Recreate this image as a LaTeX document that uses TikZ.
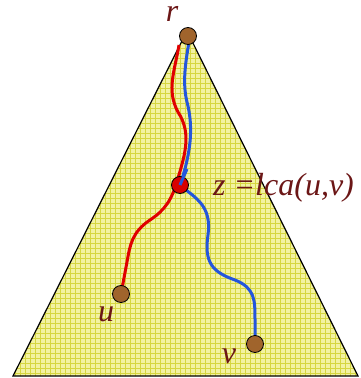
\documentclass[tikz,border=0pt]{standalone}
\usepackage{fontspec}
\setmainfont{Liberation Serif}
\begin{document}
\begin{tikzpicture}[x=1pt,y=-1pt,
  vert/.style={circle,draw=black,line width=0.8pt,fill=nodebrown,minimum size=17pt,inner sep=0pt},
  zdot/.style={circle,draw=black,line width=0.8pt,fill=dotred,minimum size=17pt,inner sep=0pt},
  lab/.style={text=labred,font=\fontsize{32}{34}\selectfont\itshape,inner sep=0pt},
  redpath/.style={draw=pathred,line width=3pt},
  bluepath/.style={draw=pathblue,line width=3pt}]
\definecolor{nodebrown}{HTML}{A0642C}
\definecolor{dotred}{HTML}{D80000}
\definecolor{labred}{HTML}{6B1616}
\definecolor{pathred}{HTML}{E00000}
\definecolor{pathblue}{HTML}{2456DC}
\definecolor{gridbg}{HTML}{F2F2A2}
\definecolor{gridln}{HTML}{D6D640}
\useasboundingbox (0,0) rectangle (360,378);
% triangle with grid
\coordinate (A) at (187,31);
\coordinate (B) at (13,376);
\coordinate (C) at (358,376);
\fill[gridbg] (A) -- (B) -- (C) -- cycle;
\begin{scope}
\clip (A) -- (B) -- (C) -- cycle;
\foreach \i in {0,...,72} {
  \draw[gridln,line width=0.7pt] (10+5*\i,0) -- (10+5*\i,380);
}
\foreach \j in {0,...,70} {
  \draw[gridln,line width=0.7pt] (0,28+5*\j) -- (360,28+5*\j);
}
\end{scope}
\draw[black,line width=1.2pt] (A) -- (B) -- (C) -- cycle;
% nodes positions
\coordinate (rp) at (188,36);
\coordinate (zp) at (180,185);
\coordinate (up) at (121,294);
\coordinate (vp) at (255,344);
% paths
\draw[redpath] (179,45) .. controls (175,70) and (166,90) .. (178,112)
  .. controls (191,132) and (186,152) .. (178,178)
  .. controls (172,200) and (165,210) .. (150,220)
  .. controls (132,232) and (130,245) .. (127,262)
  -- (up);
\draw[bluepath] (189,42) .. controls (186,60) and (182,82) .. (187,102)
  .. controls (193,125) and (192,150) .. (zp);
\draw[bluepath] (zp) .. controls (195,198) and (212,205) .. (208,235)
  .. controls (204,262) and (212,272) .. (235,280)
  .. controls (255,288) and (255,300) .. (255,320) -- (vp);
% nodes
\node[vert] (r) at (rp) {};
\node[vert] (u) at (up) {};
\node[vert] (v) at (vp) {};
\node[zdot] (z) at (zp) {};
\draw[bluepath] (z.center) -- +(7,-16);
% labels
\node[lab] (rl) at (172,14) {r};
\node[lab] (ul) at (106,314) {u};
\node[lab] (vl) at (229,356) {v};
\node[lab,anchor=west] (zl) at (213,188) {z =lca(u,v)};
\end{tikzpicture}
\end{document}
